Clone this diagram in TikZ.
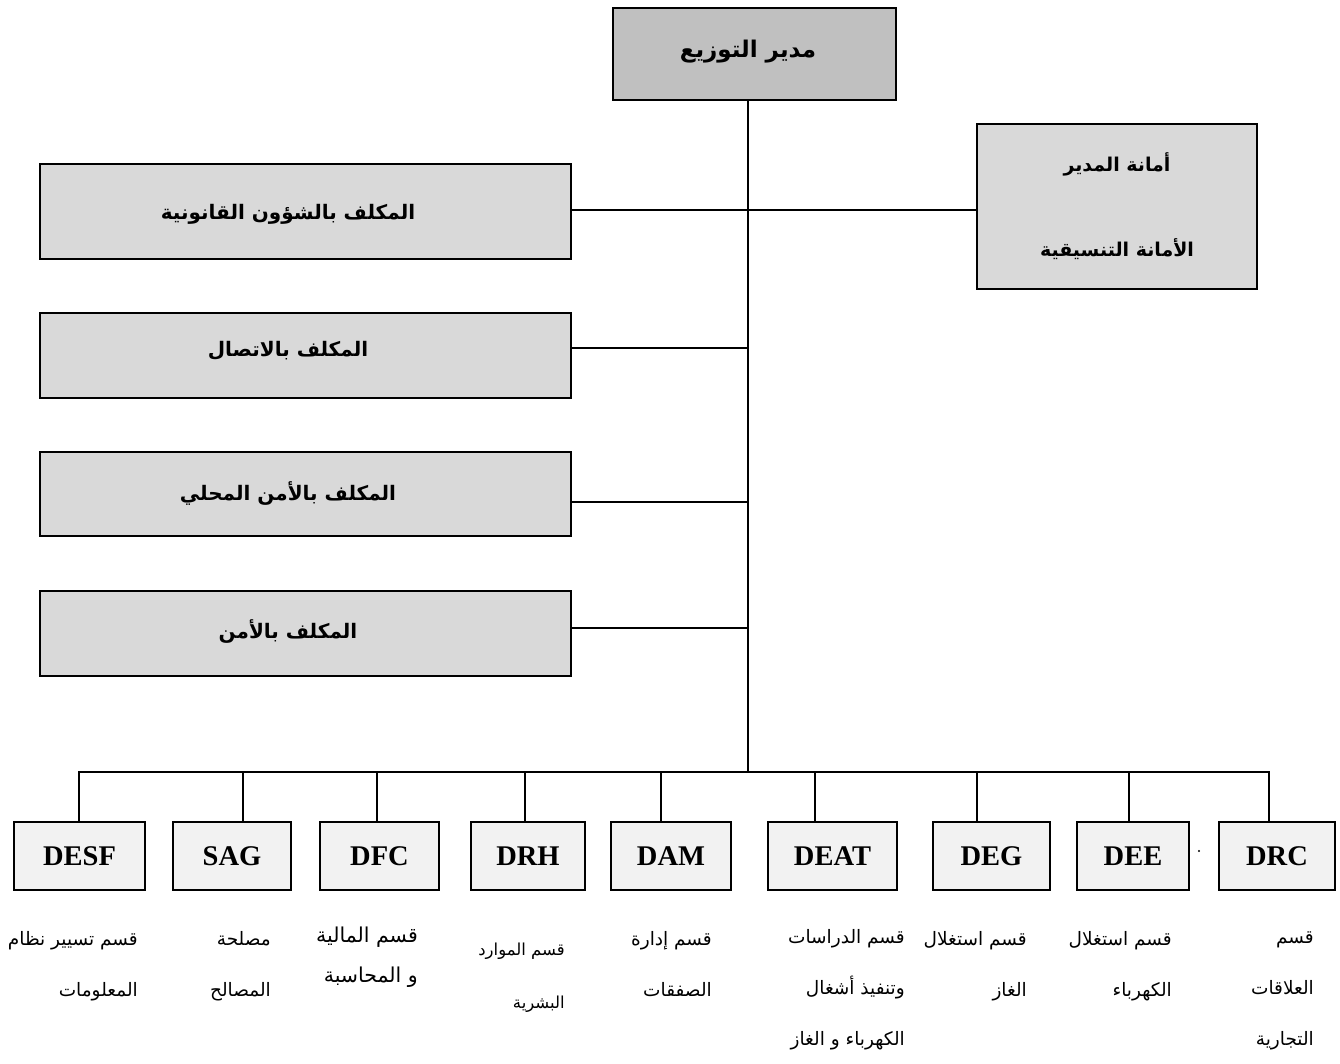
\documentclass[tikz,border=0pt]{standalone}
\usepackage{fontspec}
\setmainfont{Liberation Serif}
\newfontfamily\arabicfont[Script=Arabic]{DejaVu Sans}
\TeXXeTstate=1
\definecolor{headgray}{HTML}{C0C0C0}
\definecolor{sidegray}{HTML}{D9D9D9}
\definecolor{unitgray}{HTML}{F2F2F2}
\newcommand\rtl[1]{\beginR #1\endR}

\begin{document}
\begin{tikzpicture}[x=1pt,y=-1pt,
  box/.style={draw=black, line width=2pt, rectangle, inner sep=0pt},
  headbox/.style={box, fill=headgray, minimum width=283, minimum height=92},
  sidebox/.style={box, fill=sidegray, minimum width=531},
  unitbox/.style={box, fill=unitgray, minimum height=68,
    font=\bfseries\fontsize{28.5}{30}\selectfont},
  boldar/.style={inner sep=0pt, font=\arabicfont\bfseries\fontsize{20}{24}\selectfont},
  unitlabel/.style={anchor=base east, align=right, inner sep=0pt,
    font=\arabicfont\fontsize{18.5}{51}\selectfont},
  link/.style={line width=2pt}]
\useasboundingbox (0,0) rectangle (1340,1064);

% director and secretariat
\node[headbox] (mgr) at (754.5,54) {};
\node[boldar, font=\arabicfont\bfseries\fontsize{23}{26}\selectfont] (mgrt) at (748,52) {\rtl{مدير التوزيع}};
\node[box, fill=sidegray, minimum width=280, minimum height=165] (sec) at (1117,206.5) {};
\node[boldar, align=center, font=\arabicfont\bfseries\fontsize{19}{85}\selectfont] (sect) at (1117,206) {\rtl{أمانة المدير}\\\rtl{الأمانة التنسيقية}};

% staff officers on the left
\node[sidebox, minimum height=95] (b1) at (305.5,211.5) {};
\node[boldar] (b1t) at (288,214) {\rtl{المكلف بالشؤون القانونية}};
\node[sidebox, minimum height=85] (b2) at (305.5,355.5) {};
\node[boldar] (b2t) at (288,351) {\rtl{المكلف بالاتصال}};
\node[sidebox, minimum height=84] (b3) at (305.5,494) {};
\node[boldar] (b3t) at (288,493) {\rtl{المكلف بالأمن المحلي}};
\node[sidebox, minimum height=85] (b4) at (305.5,633.5) {};
\node[boldar] (b4t) at (288,631) {\rtl{المكلف بالأمن}};

% departments
\node[unitbox, minimum width=131] (d1) at (79.5,856) {DESF};
\node[unitbox, minimum width=118] (d2) at (232,856) {SAG};
\node[unitbox, minimum width=119] (d3) at (379.5,856) {DFC};
\node[unitbox, minimum width=114] (d4) at (528,856) {DRH};
\node[unitbox, minimum width=120] (d5) at (671,856) {DAM};
\node[unitbox, minimum width=129] (d6) at (832.5,856) {DEAT};
\node[unitbox, minimum width=117] (d7) at (991.5,856) {DEG};
\node[unitbox, minimum width=112] (d8) at (1133,856) {DEE};
\node[unitbox, minimum width=116] (d9) at (1277,856) {DRC};
\fill (1199,851) circle (1.2);

% department names (anchored at the baseline of their last line)
\node[unitlabel] (l1) at (138,996) {\rtl{قسم تسيير نظام}\\\rtl{المعلومات}};
\node[unitlabel] (l2) at (271,996) {\rtl{مصلحة}\\\rtl{المصالح}};
\node[unitlabel, font=\arabicfont\fontsize{20.5}{40}\selectfont] (l3) at (418,982) {\rtl{قسم المالية}\\\rtl{و المحاسبة}};
\node[unitlabel, font=\arabicfont\fontsize{16.5}{53}\selectfont] (l4) at (565,1008) {\rtl{قسم الموارد}\\\rtl{البشرية}};
\node[unitlabel] (l5) at (712,996) {\rtl{قسم إدارة}\\\rtl{الصفقات}};
\node[unitlabel] (l6) at (905,1045) {\rtl{قسم الدراسات}\\\rtl{وتنفيذ أشغال}\\\rtl{الكهرباء و الغاز}};
\node[unitlabel] (l7) at (1027,996) {\rtl{قسم استغلال}\\\rtl{الغاز}};
\node[unitlabel] (l8) at (1172,996) {\rtl{قسم استغلال}\\\rtl{الكهرباء}};
\node[unitlabel] (l9) at (1314,1045) {\rtl{قسم}\\\rtl{العلاقات}\\\rtl{التجارية}};

% spine, branches and bus
\coordinate (bus) at (748,772);
\coordinate (j1) at (748,210);
\coordinate (j2) at (748,348);
\coordinate (j3) at (748,502);
\coordinate (j4) at (748,628);
\draw[link] (mgr.south -| bus) -- (bus);
\draw[link] (b1.east |- j1) -- (sec.west |- j1);
\draw[link] (b2.east |- j2) -- (j2);
\draw[link] (b3.east |- j3) -- (j3);
\draw[link] (b4.east |- j4) -- (j4);

\coordinate (s1) at (79,772);
\coordinate (s2) at (243,772);
\coordinate (s3) at (377,772);
\coordinate (s4) at (525,772);
\coordinate (s5) at (661,772);
\coordinate (s6) at (815,772);
\coordinate (s7) at (977,772);
\coordinate (s8) at (1129,772);
\coordinate (s9) at (1269,772);
\draw[link, line cap=rect] (s1) -- (s9);
\foreach \i in {1,...,9}
  \draw[link] (s\i) -- (s\i |- d\i.north);
\end{tikzpicture}
\end{document}
